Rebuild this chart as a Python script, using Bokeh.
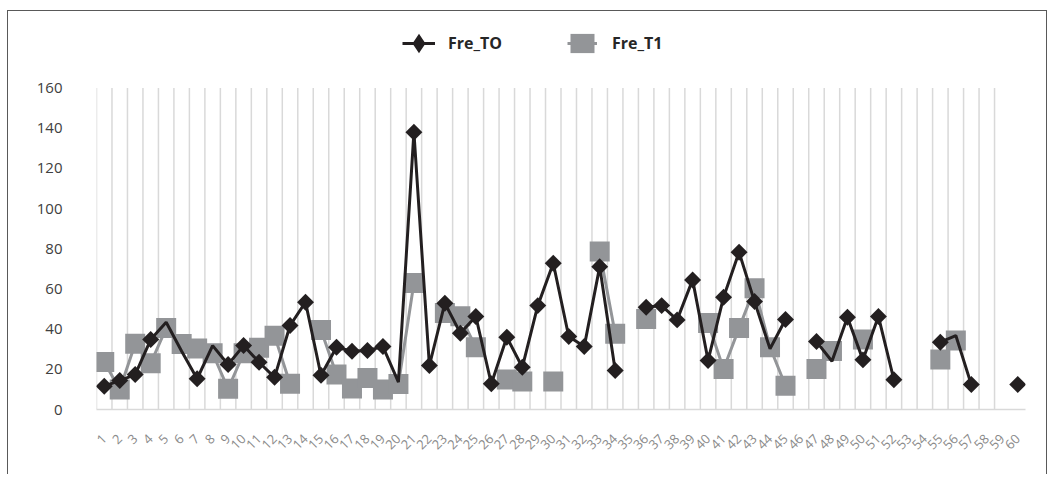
import math
from bokeh.plotting import figure
from bokeh.models import ColumnDataSource, FixedTicker, Range1d, Legend, LegendItem
from bokeh.embed import file_html
from bokeh.resources import INLINE

# ---- data ----
categories = list(range(1, 61))
fre_t0 = [11.6, 14.4, 17.4, 34.8, 43.4, 29, 15.3, 31.8, 22.4, 31.8,
          23.5, 16, 41.8, 53.4, 17, 31, 29, 29.4, 31.3, 13.6,
          138, 21.9, 52.9, 38, 46.3, 12.8, 36, 21, 51.7, 72.8,
          36.3, 31.3, 71.1, 19.4, None, 50.9, 51.7, 44.6, 64.5, 24.4,
          55.9, 78.3, 53.7, 30.2, 44.8, None, 33.8, 24, 45.9, 24.7,
          46.3, 14.8, None, None, 33.5, 36.8, 12.4, None, None, 12.4]
fre_t1 = [23.6, 10, 32.7, 23, 40.5, 32.6, 30.3, 28, 10.3, 28,
          30.7, 36.7, 12.8, None, 39.6, 17.4, 10.4, 15.7, 9.9, 12.7,
          63, None, 48, 46.4, 31, None, 14.9, 13.9, None, 13.9,
          None, None, 78.6, 37.7, None, 45, None, None, None, 43,
          20.2, 40.5, 60.4, 31, 11.8, None, 20.2, 29.1, None, 34.8,
          None, None, None, None, 24.9, 34.3, None, None, None, None]
# categories of Fre_TO drawn without a marker in the original
fre_t0_unmarked = [5, 6, 8, 20, 44, 48, 56]
y_ticks = [0, 20, 40, 60, 80, 100, 120, 140, 160]
y_max = 160

nan = float("nan")
t0 = [nan if v is None else v for v in fre_t0]
t1 = [nan if v is None else v for v in fre_t1]

line_src0 = ColumnDataSource(dict(x=categories, y=t0))
line_src1 = ColumnDataSource(dict(x=categories, y=t1))
mk0 = [(c, v) for c, v in zip(categories, fre_t0) if v is not None and c not in fre_t0_unmarked]
mk1 = [(c, v) for c, v in zip(categories, fre_t1) if v is not None]
mk_src0 = ColumnDataSource(dict(x=[a for a, b in mk0], y=[b for a, b in mk0]))
mk_src1 = ColumnDataSource(dict(x=[a for a, b in mk1], y=[b for a, b in mk1]))
grid_x = [c - 0.5 for c in categories[:-1]]

BLACK = "#231f20"
GRAY = "#939598"
FONT = "Open Sans"

# frame: bottom part (0..160) holds the data, the space above holds the legend
FRAME_H = 393
PX_PER_UNIT = 321.5 / 160
p = figure(width=1040, height=464, output_backend="svg", toolbar_location=None,
           x_range=Range1d(0.5, 60.5), y_range=Range1d(0, FRAME_H / PX_PER_UNIT),
           min_border_left=88, min_border_right=23, min_border_top=5, min_border_bottom=66)
p.outline_line_color = None
p.background_fill_color = "white"
p.border_fill_color = "white"
p.styles = {"margin-left": "7px", "margin-top": "10px",
            "border-left": "1px solid #595959", "border-top": "1px solid #595959",
            "border-right": "1px solid #595959"}

# grids: vertical category separators only, up to the top of the value range
p.xgrid.grid_line_color = None
p.ygrid.grid_line_color = None
p.segment(x0=grid_x, y0=[0] * len(grid_x), x1=grid_x, y1=[y_max] * len(grid_x),
          line_color="#d9d9d9", line_width=1.5)

# axes
xa = p.xaxis[0]
xa.ticker = FixedTicker(ticks=categories)
xa.axis_line_color = "#d9d9d9"
xa.axis_line_width = 1.5
xa.major_tick_line_color = None
xa.minor_tick_line_color = None
xa.major_label_orientation = math.pi / 4
xa.major_label_text_color = "#8a8a8a"
xa.major_label_text_font = FONT
xa.major_label_text_font_size = "13px"
xa.major_label_standoff = 21

ya = p.yaxis[0]
ya.ticker = FixedTicker(ticks=y_ticks)
ya.axis_line_color = None
ya.major_tick_line_color = None
ya.minor_tick_line_color = None
ya.major_label_text_color = "#404040"
ya.major_label_text_font = FONT
ya.major_label_text_font_size = "15px"
ya.major_label_standoff = 28

# series
l1 = p.line("x", "y", source=line_src1, line_color=GRAY, line_width=3)
s1 = p.scatter("x", "y", source=mk_src1, marker="square", size=20,
               fill_color=GRAY, line_color=None)
l0 = p.line("x", "y", source=line_src0, line_color=BLACK, line_width=3)
s0 = p.scatter("x", "y", source=mk_src0, marker="square", size=12, angle=math.pi / 4,
               fill_color=BLACK, line_color=None)

# hidden legend-only glyph stand-ins (same data, not drawn in the plot)
lg0 = p.scatter("x", "y", source=mk_src0, marker="diamond", fill_color=BLACK,
                line_color=BLACK, line_width=3.5, line_join="miter", visible=False)
lg1 = p.rect("x", "y", width=1, height=1, source=mk_src1, fill_color=GRAY,
             line_color=None, visible=False)

common = dict(orientation="horizontal", padding=0, margin=0, border_line_color=None,
              background_fill_alpha=0, inactive_fill_alpha=0,
              label_text_font=FONT, label_text_font_style="bold",
              label_text_font_size="16px", label_text_color="#262626")
legend0 = Legend(items=[LegendItem(label="Fre_TO", renderers=[l0, lg0])],
                 location=(306, 346), glyph_width=33, glyph_height=40, label_standoff=13,
                 **common)
legend1 = Legend(items=[LegendItem(label="Fre_T1", renderers=[l1, lg1])],
                 location=(471, 354), glyph_width=30, glyph_height=24, label_standoff=15,
                 **common)
p.add_layout(legend0)
p.add_layout(legend1)

open("out.html", "w").write(file_html(p, INLINE))
